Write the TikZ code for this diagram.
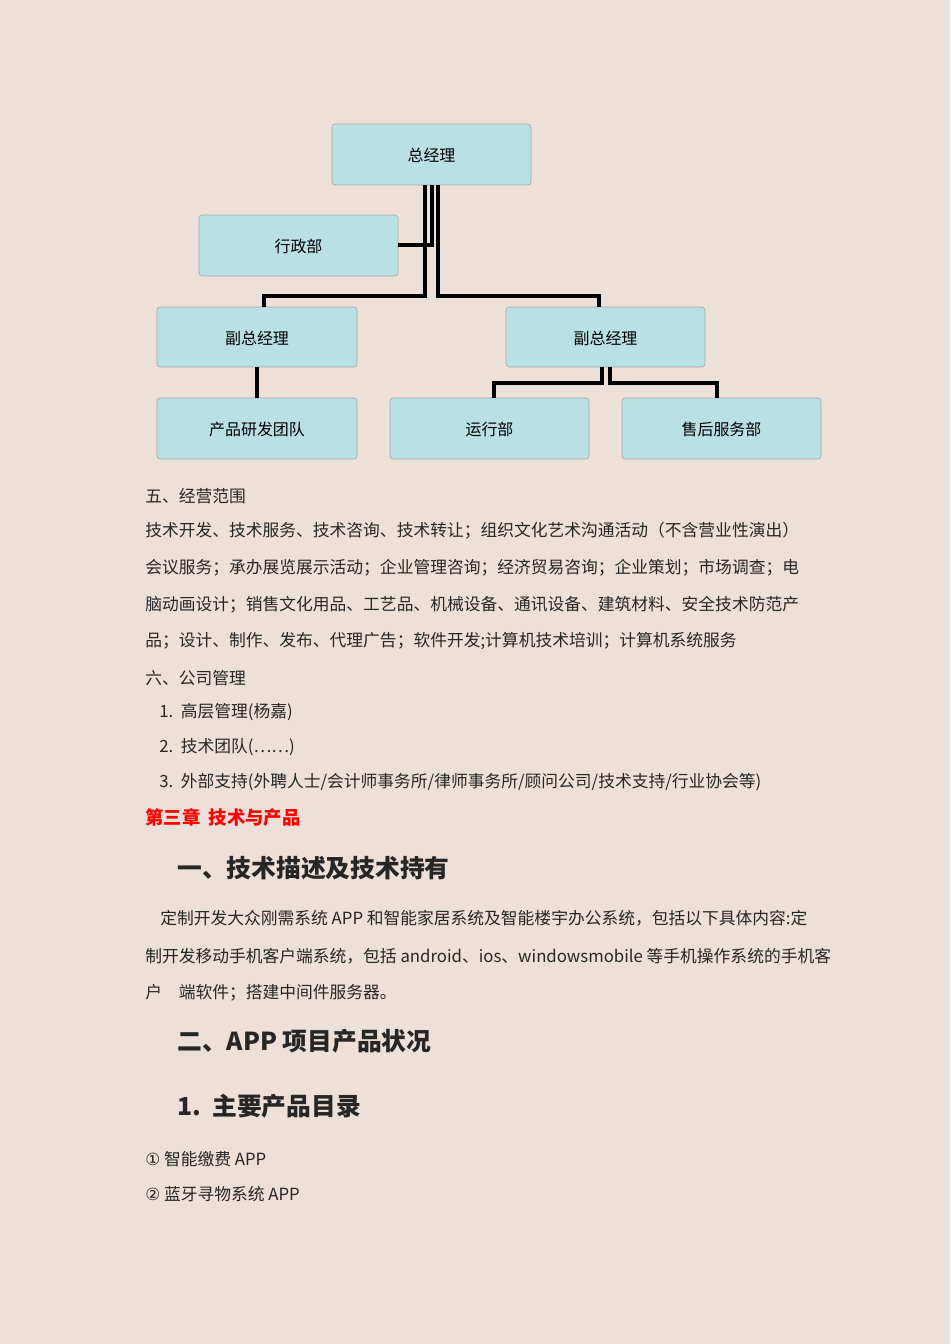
\documentclass[tikz,border=0pt]{standalone}
\usepackage{fontspec}
\setmainfont{Noto Sans CJK SC}
\newfontfamily\sym{DejaVu Sans}
\begin{document}
\begin{tikzpicture}[x=0.6264pt,y=-0.6264pt,
 box/.style={draw=gray!70,fill=boxc,rounded corners=2pt,font=\fontsize{9.5}{11}\selectfont,text=black!85},
 ln/.style={line width=2pt,black},
 tx/.style={anchor=west,inner sep=0pt,font=\fontsize{10.5}{12}\selectfont,text=black!85}]
\definecolor{bg}{HTML}{EDE0D8}
\definecolor{boxc}{HTML}{B9E0E2}
\fill[bg] (0,0) rectangle (950,1344);
\useasboundingbox (0,0) rectangle (950,1344);
\path[box] (332,124) rectangle (531,185); \node (ceo) at (431.5,155) {总经理};
\path[box] (199,215) rectangle (398,276); \node (adm) at (298.5,246) {行政部};
\path[box] (157,307) rectangle (357,367); \node (v1) at (257,338) {副总经理};
\path[box] (506,307) rectangle (705,367); \node (v2) at (605.5,338) {副总经理};
\path[box] (157,398) rectangle (357,459); \node (rd) at (257,429) {产品研发团队};
\path[box] (390,398) rectangle (589,459); \node (op) at (489.5,429) {运行部};
\path[box] (622,398) rectangle (821,459); \node (as) at (721.5,429) {售后服务部};
\draw[ln] (425,185) -- (425,296) -- (264,296) -- (264,307);
\draw[ln] (432,185) -- (432,245) -- (398,245);
\draw[ln] (438,185) -- (438,296) -- (599,296) -- (599,307);
\draw[ln] (257,367) -- (257,398);
\draw[ln] (602,367) -- (602,383) -- (494,383) -- (494,398);
\draw[ln] (610,367) -- (610,383) -- (717,383) -- (717,398);
\node[tx] at (145,496) {五、经营范围};
\node[tx] at (145,531) {技术开发、技术服务、技术咨询、技术转让；组织文化艺术沟通活动（不含营业性演出）};
\node[tx] at (145,568) {会议服务；承办展览展示活动；企业管理咨询；经济贸易咨询；企业策划；市场调查；电};
\node[tx] at (145,605) {脑动画设计；销售文化用品、工艺品、机械设备、通讯设备、建筑材料、安全技术防范产};
\node[tx] at (145,641) {品；设计、制作、发布、代理广告；软件开发;计算机技术培训；计算机系统服务};
\node[tx] at (145,678) {六、公司管理};
\node[tx] at (159,712) {1.\ \ 高层管理(杨嘉)};
\node[tx] at (159,747) {2.\ \ 技术团队(……)};
\node[tx] at (159,782) {3.\ \ 外部支持(外聘人士/会计师事务所/律师事务所/顾问公司/技术支持/行业协会等)};
\node[tx,text=red,font=\fontsize{11.5}{13}\selectfont\bfseries] at (145,818) {第三章\ \ 技术与产品};
\node[tx,font=\fontsize{15.5}{17}\selectfont\bfseries] at (177,868) {一、技术描述及技术持有};
\node[tx] at (160,918) {定制开发大众刚需系统 APP 和智能家居系统及智能楼宇办公系统，包括以下具体内容:定};
\node[tx] at (145,956) {制开发移动手机客户端系统，包括 android、ios、windowsmobile 等手机操作系统的手机客};
\node[tx] at (145,993) {户\quad 端软件；搭建中间件服务器。};
\node[tx,font=\fontsize{15.5}{17}\selectfont\bfseries] at (177,1041) {二、APP 项目产品状况};
\node[tx,font=\fontsize{15.5}{17}\selectfont\bfseries] at (177,1106) {1.\ \ 主要产品目录};
\node[tx] at (145,1159) {{\sym ①} 智能缴费 APP};
\node[tx] at (145,1194) {{\sym ②} 蓝牙寻物系统 APP};
\end{tikzpicture}
\end{document}
